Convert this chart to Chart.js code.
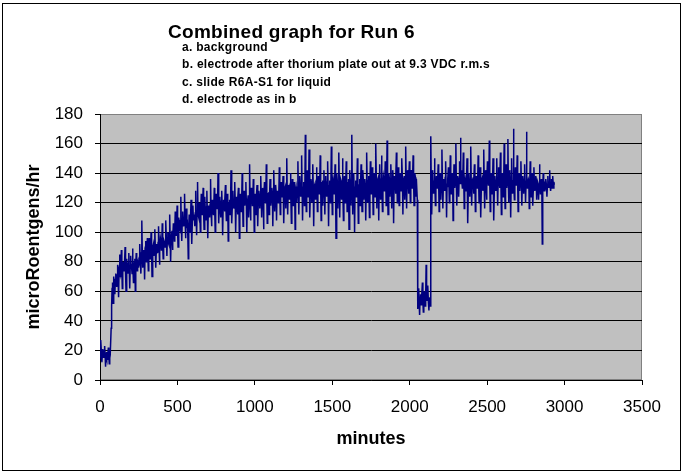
<!DOCTYPE html>
<html lang="en">
  <head>
    <meta charset="UTF-8" />
    <meta name="viewport" content="width=device-width, initial-scale=1.0" />
    <title>Combined graph for Run 6</title>
    <style>
      body { margin: 0; background: #fff; }
      #wrap { position: relative; width: 685px; height: 474px; font-family: "Liberation Sans", Arial, sans-serif; }
      #frame { position: absolute; left: 2px; top: 3px; width: 679px; height: 468px; border: 1px solid #000; box-sizing: border-box; }
      #chart { position: absolute; left: 0; top: 0; }
      .title { position: absolute; left: 168px; top: 22px; font-size: 19px; font-weight: bold; line-height: 19px; letter-spacing: 0.3px; white-space: nowrap; }
      .notes { position: absolute; left: 182px; top: 39px; font-size: 12px; font-weight: bold; line-height: 17.4px; letter-spacing: 0.3px; white-space: nowrap; }
    </style>
  </head>
  <body>
    <div id="wrap">
      <div id="frame"></div>
      <canvas id="chart" width="685" height="474"></canvas>
      <div class="title">Combined graph for Run 6</div>
      <div class="notes">
        a. background<br />
        b. electrode after thorium plate out at 9.3 VDC r.m.s<br />
        c. slide R6A-S1 for liquid<br />
        d. electrode as in b
      </div>
    </div>

    <script src="https://cdn.jsdelivr.net/npm/chart.js"></script>

    <script>
      // readings every 3 minutes
      const minutesStep = 3;

      // a. background (starts at 0 min)
      const backgroundStart = 0;
      const background = [
        18, 16, 27, 19, 12, 17, 21, 18, 15, 20, 23, 17, 9, 16, 19, 14, 14, 18, 22, 16, 11, 15, 17
      ];

      // b. electrode after thorium plate out (starts at 72 min)
      const electrodeStart = 72;
      const electrode = [
        35, 50, 62, 66, 52, 64, 70, 61, 58, 68, 72, 66, 63, 71, 78, 68, 56, 74, 85, 72,
        70, 78, 88, 75, 62, 73, 80, 76, 74, 81, 90, 72, 60, 77, 82, 74, 72, 79, 86, 75,
        62, 76, 84, 78, 76, 72, 89, 79, 66, 75, 80, 82, 60, 77, 86, 79, 74, 80, 81, 76,
        78, 84, 92, 80, 72, 86, 108, 88, 76, 82, 88, 83, 68, 87, 94, 85, 80, 90, 96, 86,
        74, 88, 96, 86, 82, 91, 100, 87, 70, 85, 90, 92, 84, 89, 102, 90, 76, 86, 92, 88,
        86, 93, 104, 90, 78, 89, 96, 94, 88, 92, 106, 91, 82, 95, 94, 90, 90, 97, 108, 94,
        84, 96, 100, 93, 92, 99, 112, 97, 80, 94, 98, 101, 88, 96, 106, 100, 94, 102, 114, 99,
        98, 104, 118, 101, 90, 106, 110, 103, 102, 108, 124, 105, 94, 107, 114, 109, 104, 106, 126, 110,
        96, 108, 116, 105, 106, 98, 82, 104, 112, 109, 100, 111, 122, 106, 92, 110, 118, 108, 108, 112,
        104, 113, 128, 110, 98, 114, 134, 112, 110, 116, 120, 111, 100, 115, 126, 113, 112, 117, 130, 114,
        102, 115, 124, 112, 108, 117, 128, 114, 96, 113, 118, 116, 110, 119, 136, 115, 104, 117, 122, 114,
        112, 118, 130, 115, 100, 116, 126, 120, 116, 118, 140, 117, 106, 119, 124, 116, 110, 121, 128, 118,
        98, 116, 122, 119, 114, 121, 132, 117, 108, 120, 126, 118, 94, 116, 120, 122, 112, 119, 142, 120,
        106, 119, 128, 121, 116, 118, 134, 122, 100, 117, 124, 120, 112, 123, 130, 119, 96, 118, 126, 121,
        114, 122, 140, 120, 104, 121, 128, 124, 118, 123, 134, 120, 100, 119, 122, 125, 110, 122, 146, 123,
        108, 121, 130, 124, 118, 122, 136, 125, 100, 120, 126, 123, 112, 126, 132, 122, 104, 124, 128, 125,
        116, 124, 138, 126, 110, 123, 130, 127, 102, 122, 134, 125, 120, 128, 146, 124, 106, 123, 126, 127,
        112, 125, 136, 128, 118, 124, 130, 127, 104, 126, 142, 129, 114, 125, 132, 128, 108, 126, 128, 127,
        120, 128, 144, 126, 112, 127, 134, 130, 124, 128, 138, 126, 106, 127, 130, 131, 116, 129, 150, 128,
        112, 127, 132, 129, 122, 130, 140, 128, 106, 127, 136, 131, 118, 129, 134, 130, 102, 128, 130, 131,
        120, 130, 148, 128, 112, 131, 138, 132, 124, 129, 152, 131, 108, 130, 134, 133, 118, 131, 166, 132,
        114, 130, 142, 133, 124, 131, 156, 130, 110, 129, 136, 134, 120, 132, 146, 131, 104, 130, 132, 133,
        122, 131, 144, 134, 114, 132, 138, 130, 126, 133, 152, 132, 108, 131, 134, 135, 118, 132, 142, 131,
        112, 133, 138, 130, 124, 134, 148, 132, 104, 131, 132, 135, 120, 133, 158, 131, 112, 132, 136, 134,
        126, 133, 146, 131, 96, 128, 140, 134, 116, 132, 154, 133, 110, 131, 136, 135, 122, 133, 150, 132,
        108, 132, 138, 134, 120, 133, 148, 131, 114, 134, 132, 136, 102, 131, 142, 133, 118, 135, 166, 132,
        112, 134, 140, 131, 100, 130, 134, 135, 124, 133, 150, 132, 106, 131, 132, 136, 118, 134, 146, 133,
        114, 133, 142, 135, 122, 134, 136, 132, 108, 131, 154, 135, 120, 134, 138, 133, 110, 132, 148, 136,
        126, 134, 144, 132, 112, 133, 140, 136, 124, 135, 160, 133, 116, 134, 136, 137, 108, 132, 146, 135,
        122, 135, 152, 134, 114, 133, 138, 136, 128, 134, 148, 137, 118, 135, 162, 134, 112, 133, 140, 136,
        124, 136, 146, 134, 116, 135, 142, 137, 106, 133, 138, 136, 126, 135, 154, 138, 120, 134, 144, 136,
        118, 135, 140, 137, 128, 134, 150, 136, 112, 135, 136, 138, 122, 134, 158, 136, 116, 137, 142, 135,
        126, 136, 148, 134, 120, 137, 142, 135, 130, 138, 152, 136, 118, 135, 140, 137, 124, 136, 136, 122
      ];

      // c. slide R6A-S1 for liquid (starts at 2052 min)
      const slideStart = 2052;
      const slide = [
        48, 55, 62, 52, 44, 56, 58, 51, 52, 57, 66, 54, 46, 53,
        60, 55, 50, 56, 78, 54, 54, 58, 64, 52, 47, 55, 56, 50
      ];

      // d. electrode as in b (starts at 2136 min)
      const electrode2Start = 2136;
      const electrode2 = [
        165, 134, 112, 130, 142, 135, 126, 133, 150, 136, 118, 132, 138, 134, 130, 137, 146, 133, 114, 131,
        140, 135, 122, 133, 156, 136, 116, 132, 136, 134, 128, 137, 148, 133, 110, 131, 134, 136, 144, 134,
        120, 133, 152, 135, 126, 134, 140, 136, 108, 132, 146, 137, 130, 135, 160, 134, 118, 133, 138, 136,
        124, 135, 148, 133, 164, 136, 142, 134, 130, 137, 154, 135, 116, 132, 136, 134, 128, 136, 150, 133,
        106, 132, 140, 135, 124, 134, 158, 136, 118, 133, 134, 137, 126, 135, 146, 134, 114, 132, 138, 135,
        130, 136, 152, 134, 120, 133, 144, 135, 110, 132, 136, 137, 128, 134, 156, 136, 116, 133, 142, 135,
        122, 134, 148, 136, 132, 135, 162, 133, 114, 132, 140, 136, 126, 134, 150, 135, 108, 131, 138, 134,
        128, 135, 150, 133, 118, 134, 144, 136, 130, 135, 154, 134, 112, 132, 140, 136, 124, 135, 160, 134,
        116, 133, 146, 135, 130, 136, 163, 134, 120, 133, 142, 136, 110, 132, 150, 135, 126, 134, 170, 133,
        122, 134, 144, 136, 132, 135, 152, 134, 114, 132, 140, 135, 128, 136, 148, 134, 118, 133, 138, 135,
        126, 134, 146, 135, 120, 133, 168, 136, 130, 134, 136, 135, 116, 132, 148, 134, 124, 133, 140, 135,
        118, 132, 144, 134, 128, 133, 138, 135, 122, 131, 134, 133, 122, 132, 146, 134, 126, 133, 136, 132,
        92, 128, 140, 131, 128, 133, 132, 130, 136, 132, 124, 131, 138, 133, 130, 132, 142, 131, 128, 133,
        136, 130, 132, 138, 130, 134, 132
      ];

      const xTicks = { min: 0, max: 3500, step: 500 };
      const yTicks = { min: 0, max: 180, step: 20 };

      function segment(start, values) {
        return values.map((v, i) => ({ x: start + i * minutesStep, y: v }));
      }

      const points = [].concat(
        segment(backgroundStart, background),
        segment(electrodeStart, electrode),
        segment(slideStart, slide),
        segment(electrode2Start, electrode2)
      );

      // grey plot area like the old spreadsheet chart
      const plotArea = {
        id: "plotArea",
        beforeDraw(chart) {
          const { ctx, chartArea: a } = chart;
          ctx.save();
          ctx.fillStyle = "#c0c0c0";
          ctx.fillRect(a.left, a.top, a.width, a.height);
          ctx.strokeStyle = "#808080";
          ctx.lineWidth = 1;
          ctx.strokeRect(a.left + 0.5, a.top + 0.5, a.width - 1, a.height - 1);
          ctx.restore();
        },
      };

      Chart.defaults.font.family = '"Liberation Sans", Arial, sans-serif';
      Chart.defaults.color = "#000";

      new Chart(document.getElementById("chart"), {
        type: "line",
        data: {
          datasets: [
            {
              data: points,
              borderColor: "#000080",
              borderWidth: 1.5,
              pointRadius: 0,
              tension: 0,
            },
          ],
        },
        options: {
          responsive: false,
          animation: false,
          devicePixelRatio: 1,
          layout: { padding: { top: 114, right: 43, left: 0, bottom: 0 } },
          plugins: { legend: { display: false }, tooltip: { enabled: false } },
          scales: {
            x: {
              type: "linear",
              min: xTicks.min,
              max: xTicks.max,
              ticks: {
                stepSize: xTicks.step,
                font: { size: 17 },
                padding: 12,
                maxRotation: 0,
                callback: (v) => String(v),
              },
              grid: { drawOnChartArea: false, tickLength: 5, tickColor: "#000", color: "#000" },
              border: { color: "#000", width: 1 },
              title: {
                display: true,
                text: "minutes",
                font: { size: 18, weight: "bold" },
                padding: { top: 0, bottom: 24 },
              },
              afterFit(s) {
                s.height = 94;
              },
            },
            y: {
              min: yTicks.min,
              max: yTicks.max,
              ticks: { stepSize: yTicks.step, font: { size: 17 }, padding: 12 },
              grid: {
                color: (c) => (c.tick && c.tick.value === yTicks.max ? "rgba(0,0,0,0)" : "#000"),
                tickLength: 5,
                tickColor: "#000",
              },
              border: { color: "#000", width: 1 },
              title: {
                display: true,
                text: "microRoentgens/hr",
                font: { size: 18, weight: "bold" },
                padding: { top: 23, bottom: 0 },
              },
              afterFit(s) {
                s.width = 100;
              },
            },
          },
        },
        plugins: [plotArea],
      });
    </script>
  </body>
</html>
